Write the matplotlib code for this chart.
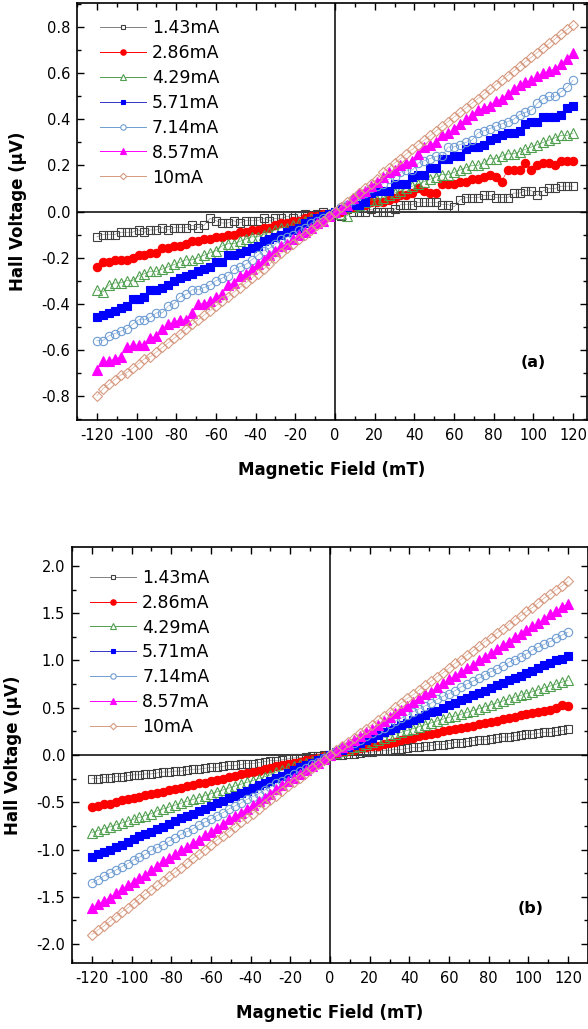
import matplotlib
matplotlib.use('Agg')
import matplotlib.pyplot as plt
import numpy as np
from matplotlib.lines import Line2D
from matplotlib.ticker import MultipleLocator, FormatStrFormatter

plt.rcParams['font.family'] = ['DejaVu Sans']
plt.rcParams['axes.unicode_minus'] = False

# magnetic field sweep (mT), same for both panels
field = np.arange(-120, 121, 3)
currents = ['1.43mA', '2.86mA', '4.29mA', '5.71mA', '7.14mA', '8.57mA', '10mA']

# panel (a): Hall voltage, units of 0.01 uV
a_143 = [-11, -10, -10, -10, -9, -9, -9, -8, -9, -8,
         -8, -7, -8, -7, -7, -7, -6, -7, -6, -3,
         -4, -5, -5, -4, -5, -4, -4, -4, -3, -4,
         -3, -3, -2, -3, -2, -1, -2, -1, 0, -1,
         0,
         -2, 1, 0, 0, 0, 1, 0, 0, 0, 1,
         3, 3, 3, 4, 4, 4, 4, 3, 3, 2,
         5, 6, 6, 6, 7, 7, 6, 6, 6, 8,
         8, 9, 9, 7, 9, 10, 10, 11, 11, 11]
a_286 = [-24, -22, -22, -21, -21, -21, -20, -19, -19, -18,
         -18, -16, -16, -15, -15, -14, -13, -13, -12, -12,
         -11, -11, -10, -10, -9, -9, -8, -8, -7, -7,
         -6, -5, -5, -4, -4, -3, -2, -2, -1, -1,
         0,
         0, 1, 2, 3, 3, 4, 4, 4, 5, 6,
         7, 7, 8, 10, 9, 8, 8, 12, 12, 12,
         13, 13, 14, 14, 15, 16, 15, 13, 18, 18,
         18, 21, 18, 20, 21, 21, 20, 22, 22, 22]
a_429 = [-34, -35, -32, -31, -31, -30, -30, -28, -27, -26,
         -26, -25, -24, -23, -22, -21, -21, -20, -19, -18,
         -17, -15, -14, -14, -13, -12, -11, -11, -10, -9,
         -8, -7, -7, -6, -5, -4, -3, -3, -2, -1,
         0,
         -1, -2, 2, 3, 4, 5, 5, 6, 7, 8,
         9, 10, 11, 12, 13, 14, 15, 16, 16, 17,
         18, 19, 20, 20, 21, 23, 23, 24, 25, 25,
         26, 27, 28, 29, 30, 31, 32, 33, 33, 34]
a_571 = [-46, -45, -44, -43, -42, -41, -38, -38, -37, -34,
         -34, -33, -32, -30, -29, -28, -27, -26, -25, -24,
         -22, -22, -19, -19, -18, -17, -16, -15, -13, -12,
         -11, -10, -9, -8, -7, -5, -4, -3, -2, -1,
         0,
         1, 2, 3, 3, 4, 8, 9, 9, 9, 12,
         12, 12, 15, 16, 16, 19, 19, 23, 23, 24,
         24, 27, 28, 28, 29, 31, 32, 33, 34, 34,
         35, 38, 39, 39, 41, 41, 41, 42, 45, 46]
a_714 = [-56, -56, -54, -53, -52, -51, -49, -47, -47, -46,
         -44, -44, -41, -40, -37, -36, -34, -34, -33, -32,
         -30, -29, -28, -25, -24, -23, -21, -19, -17, -16,
         -14, -12, -11, -10, -8, -7, -5, -4, -3, -2,
         0,
         2, 3, 5, 7, 8, 10, 11, 12, 14, 15,
         17, 18, 18, 21, 22, 23, 24, 24, 28, 28,
         29, 30, 31, 34, 35, 36, 37, 38, 39, 40,
         42, 43, 44, 47, 49, 50, 50, 52, 54, 57]
a_857 = [-69, -65, -65, -64, -63, -59, -58, -58, -58, -55,
         -54, -51, -49, -48, -47, -47, -44, -40, -40, -39,
         -37, -36, -32, -31, -28, -27, -25, -23, -21, -19,
         -17, -15, -14, -12, -10, -9, -7, -5, -4, -2,
         0,
         1, 3, 6, 8, 9, 11, 13, 15, 17, 18,
         20, 21, 22, 25, 28, 29, 30, 33, 34, 36,
         38, 40, 42, 44, 45, 46, 48, 49, 51, 53,
         55, 56, 57, 59, 60, 61, 62, 64, 66, 69]
a_10 = [-80, -77, -75, -73, -71, -70, -68, -66, -64, -63,
        -61, -59, -57, -55, -53, -51, -49, -47, -45, -43,
        -41, -39, -37, -35, -33, -31, -29, -27, -25, -23,
        -20, -18, -16, -14, -12, -10, -8, -6, -4, -2,
        0,
        2, 4, 6, 8, 10, 12, 14, 17, 19, 21,
        23, 25, 27, 29, 31, 33, 35, 37, 39, 41,
        43, 45, 47, 49, 51, 53, 55, 57, 59, 61,
        63, 65, 67, 69, 71, 73, 75, 77, 79, 81]

# panel (b), units of 0.01 uV
b_143 = [-25, -25, -24, -24, -23, -23, -22, -21, -21, -20,
         -20, -19, -18, -18, -17, -17, -16, -15, -15, -14,
         -13, -13, -12, -11, -11, -10, -9, -9, -8, -7,
         -6, -6, -5, -4, -3, -3, -2, -1, -1, 0,
         0,
         0, 0, 1, 1, 2, 3, 3, 4, 5, 5,
         6, 6, 7, 8, 8, 9, 10, 11, 11, 12,
         13, 13, 14, 15, 16, 16, 17, 18, 19, 19,
         20, 21, 22, 22, 23, 24, 24, 25, 26, 27]
b_286 = [-55, -54, -52, -52, -50, -48, -47, -46, -44, -42,
         -41, -40, -39, -37, -36, -35, -33, -32, -30, -30,
         -28, -26, -25, -23, -22, -20, -19, -18, -17, -15,
         -14, -12, -11, -10, -8, -7, -5, -4, -3, -1,
         0,
         1, 3, 4, 5, 7, 8, 9, 10, 12, 13,
         14, 16, 17, 18, 20, 21, 22, 23, 25, 26,
         27, 29, 30, 31, 33, 34, 35, 36, 38, 39,
         40, 42, 43, 44, 46, 47, 48, 50, 53, 52]
b_429 = [-82, -80, -78, -76, -74, -72, -70, -68, -66, -64,
         -62, -59, -57, -55, -53, -51, -49, -47, -45, -43,
         -41, -39, -37, -35, -33, -31, -29, -27, -25, -23,
         -21, -18, -16, -14, -12, -10, -8, -6, -4, -2,
         0,
         2, 4, 6, 8, 10, 12, 14, 16, 18, 20,
         22, 24, 26, 28, 30, 32, 34, 36, 38, 40,
         41, 43, 45, 47, 49, 51, 53, 55, 57, 59,
         61, 63, 65, 67, 69, 71, 73, 75, 77, 79]
b_571 = [-108, -105, -103, -100, -97, -95, -92, -89, -86, -84,
         -81, -78, -76, -73, -70, -67, -65, -62, -59, -57,
         -54, -51, -49, -46, -43, -40, -38, -35, -32, -30,
         -27, -24, -22, -19, -16, -13, -11, -8, -5, -3,
         0,
         3, 5, 8, 11, 13, 16, 18, 21, 24, 26,
         29, 32, 34, 37, 39, 42, 45, 47, 50, 53,
         55, 58, 60, 63, 66, 68, 71, 74, 76, 79,
         81, 84, 87, 89, 92, 95, 97, 100, 102, 105]
b_714 = [-135, -132, -128, -125, -122, -118, -115, -111, -108, -105,
         -101, -98, -95, -91, -88, -84, -81, -78, -74, -71,
         -68, -64, -61, -57, -54, -51, -47, -44, -41, -37,
         -34, -30, -27, -24, -20, -17, -14, -10, -7, -3,
         0,
         3, 7, 10, 13, 16, 20, 23, 26, 29, 33,
         36, 39, 42, 46, 49, 52, 55, 59, 62, 65,
         68, 72, 75, 78, 81, 85, 88, 91, 94, 98,
         101, 104, 107, 111, 114, 117, 120, 124, 127, 130]
b_857 = [-162, -158, -154, -151, -146, -142, -138, -134, -130, -127,
         -122, -117, -112, -109, -105, -101, -97, -93, -90, -85,
         -81, -77, -73, -68, -65, -61, -57, -53, -49, -45,
         -41, -36, -32, -28, -24, -20, -16, -12, -8, -4,
         0,
         4, 8, 12, 16, 20, 24, 28, 32, 36, 40,
         44, 48, 52, 56, 60, 64, 67, 72, 76, 80,
         84, 88, 92, 95, 100, 104, 108, 112, 116, 120,
         125, 128, 132, 136, 140, 144, 149, 152, 157, 160]
b_10 = [-190, -185, -181, -176, -171, -166, -162, -157, -152, -147,
        -143, -138, -133, -128, -124, -119, -114, -109, -105, -100,
        -95, -90, -86, -81, -76, -71, -67, -62, -57, -52,
        -48, -43, -38, -33, -29, -24, -19, -14, -10, -5,
        0,
        5, 9, 14, 18, 23, 28, 32, 37, 41, 46,
        51, 55, 60, 64, 69, 74, 78, 83, 87, 92,
        97, 101, 106, 110, 115, 120, 124, 129, 133, 138,
        143, 147, 152, 156, 161, 166, 170, 175, 179, 184]

panel_a = [a_143, a_286, a_429, a_571, a_714, a_857, a_10]
panel_b = [b_143, b_286, b_429, b_571, b_714, b_857, b_10]

colors = ['#404040', '#ff0000', '#4f9f4f', '#0000ff', '#6f9dd2', '#ff00ff', '#d69a80']
line_colors = ['#808080', '#ff0000', '#4f9f4f', '#3333cc', '#6f9dd2', '#ff00ff', '#d69a80']
markers = ['s', 'o', '^', 's', 'o', '^', 'D']
filled = [False, True, False, True, False, True, False]
sizes = [5.5, 6.0, 6.5, 5.5, 6.0, 6.5, 5.0]


def my_plot(ax, data, xlim, ylim, ystep, tag, tag_pos, leg_anchor):
    handles = []
    for vals, label, c, lc, m, f, s in zip(data, currents, colors, line_colors, markers, filled, sizes):
        v = np.array(vals) / 100.0
        ax.plot(field, v, color=lc, lw=0.4, marker=m, ms=s, mew=0.8,
                mfc=c if f else 'none', mec=c, zorder=3)
        handles.append(Line2D([], [], color=lc, lw=0.7, marker=m, ms=s * 0.65, mew=0.8,
                              mfc=c if f else 'white', mec=c, label=label))

    ax.axhline(0, color='black', lw=1.1, zorder=2)
    ax.axvline(0, color='black', lw=1.1, zorder=2)

    ax.set_xlim(*xlim)
    ax.set_ylim(*ylim)
    ax.xaxis.set_major_locator(MultipleLocator(20))
    ax.xaxis.set_minor_locator(MultipleLocator(10))
    ax.yaxis.set_major_locator(MultipleLocator(ystep))
    ax.yaxis.set_minor_locator(MultipleLocator(ystep / 2))
    ax.yaxis.set_major_formatter(FormatStrFormatter('%.1f'))
    ax.tick_params(which='both', direction='in', top=True, right=True, width=1.0)
    ax.tick_params(which='major', length=5, labelsize=10.5)
    ax.tick_params(which='minor', length=3)
    ax.tick_params(axis='x', pad=6)
    ax.tick_params(axis='y', pad=5)
    for sp in ax.spines.values():
        sp.set_linewidth(1.2)

    ax.set_xlabel('Magnetic Field (mT)', fontsize=12, fontweight='bold', labelpad=13)
    ax.set_ylabel('Hall Voltage (\u03bcV)', fontsize=12, fontweight='bold', labelpad=10)
    ax.text(tag_pos[0], tag_pos[1], tag, transform=ax.transAxes, fontsize=11.5,
            fontweight='bold', ha='center', va='center')

    ax.legend(handles=handles, loc='upper left', bbox_to_anchor=leg_anchor, frameon=False,
              fontsize=12.5, borderpad=0, borderaxespad=0, handlelength=2.65,
              handletextpad=0.35, labelspacing=0.4)


if __name__ == '__main__':
    fig = plt.figure(figsize=(5.88, 10.29), dpi=100)

    ax_a = fig.add_axes([77 / 588, 1 - 420 / 1029, 510 / 588, 417 / 1029])
    my_plot(ax_a, panel_a, (-130, 127), (-0.905, 0.905), 0.2, '(a)', (0.894, 0.137), (0.045, 0.962))

    ax_b = fig.add_axes([72 / 588, 1 - 963 / 1029, 516 / 588, 416 / 1029])
    my_plot(ax_b, panel_b, (-130, 130), (-2.2, 2.2), 0.5, '(b)', (0.888, 0.132), (0.035, 0.948))

    fig.savefig('out.png', dpi=100)
